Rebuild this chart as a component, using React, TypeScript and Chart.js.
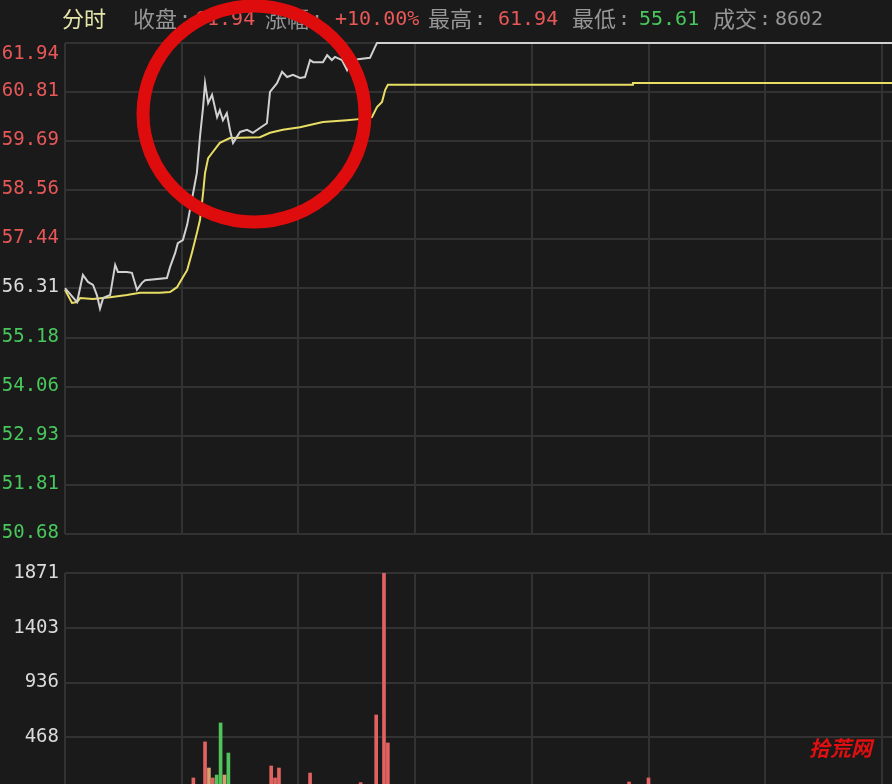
import React, { useEffect, useRef } from "react";
import { Chart, registerables } from "chart.js";
Chart.register(...registerables);

// ---------- data ----------
const PREV_CLOSE = 56.31;
const priceTickLabels = ["61.94", "60.81", "59.69", "58.56", "57.44", "56.31", "55.18", "54.06", "52.93", "51.81", "50.68"];
const volumeTickLabels = ["1871", "1403", "936", "468"];
const volumeTickValues = [1871, 1403.25, 935.5, 467.75];
const timeGridMinutes = [0, 30, 60, 90, 120, 150, 180, 210];

const priceMinutes = [0, 2.6, 3.1, 4.6, 5.9, 7.2, 8.2, 9.0, 9.8, 11.6, 12.9, 13.6, 15.9, 17.2, 18.5, 19.8, 20.6, 26.2, 27.0, 28.3, 29.0, 30.3, 31.4, 32.6, 33.9, 34.7, 35.5, 36.0, 36.8, 37.8, 39.1, 39.8, 40.6, 41.6, 42.4, 43.2, 45.0, 46.8, 48.3, 50.1, 51.9, 52.7, 54.5, 55.8, 57.1, 58.6, 60.4, 61.7, 63.0, 63.8, 66.3, 67.4, 68.6, 69.4, 71.2, 72.5, 73.3, 75.3, 78.4, 79.7, 80.2, 240];
const priceValues = [56.32, 56.05, 56.0, 56.62, 56.46, 56.39, 56.16, 55.85, 56.09, 56.16, 56.85, 56.69, 56.69, 56.67, 56.28, 56.44, 56.5, 56.55, 56.8, 57.12, 57.35, 57.42, 57.77, 58.34, 58.96, 59.79, 60.47, 61.02, 60.56, 60.75, 60.24, 60.4, 60.17, 60.33, 59.95, 59.65, 59.9, 59.95, 59.88, 59.99, 60.1, 60.82, 61.02, 61.28, 61.16, 61.21, 61.14, 61.16, 61.55, 61.5, 61.5, 61.66, 61.55, 61.62, 61.55, 61.32, 61.5, 61.57, 61.6, 61.85, 61.94, 61.94];

const avgMinutes = [0, 1.8, 3.1, 3.9, 7.2, 11.6, 15.9, 19.3, 24.4, 27.0, 28.8, 30.3, 31.4, 32.6, 33.9, 34.7, 35.5, 36.0, 36.8, 38.0, 39.8, 42.4, 50.1, 52.7, 56.0, 60.4, 66.3, 72.5, 76.3, 78.9, 80.2, 81.5, 82.3, 83.0, 145.8, 146.0, 240];
const avgValues = [56.28, 55.98, 56.0, 56.09, 56.07, 56.11, 56.16, 56.21, 56.21, 56.23, 56.34, 56.57, 56.73, 57.12, 57.58, 57.88, 58.5, 58.96, 59.3, 59.44, 59.65, 59.76, 59.78, 59.88, 59.95, 60.01, 60.13, 60.17, 60.2, 60.24, 60.47, 60.59, 60.86, 60.98, 60.98, 61.02, 61.02];

const volumeMinutes = [33, 36, 37, 38, 39, 40, 41, 42, 53, 54, 55, 63, 76, 80, 82, 83, 145, 150];
const volumeValues = [120, 428, 205, 120, 145, 590, 145, 333, 222, 120, 205, 162, 80, 658, 1871, 419, 85, 120];
const volumeDirections = [1, 1, 0, 1, -1, -1, 0, -1, 1, 1, 1, 1, 1, 1, 1, 1, 1, 1];

const headerTitle = "分时";
const headerLabels = ["收盘", "涨幅", "最高", "最低", "成交"];
const headerValues = ["61.94", "+10.00%", "61.94", "55.61", "8602"];
const watermarkText = "拾荒网";

// ---------- styles ----------
const BG = "rgb(26,26,26)";
const GRID = "rgb(50,50,50)";
const RED = "rgb(232,88,88)";
const GREEN = "rgb(72,200,92)";
const GREYTXT = "rgb(150,150,150)";
const LABELWHITE = "rgb(218,218,218)";
const MONO = "'DejaVu Sans Mono', monospace";
const CJK = "'Noto Sans CJK SC', sans-serif";
const XMAX = 827 / 3.89;

const xScale = () => ({
  type: "linear" as const,
  min: 0,
  max: XMAX,
  offset: false,
  border: { display: false },
  grid: { color: GRID, lineWidth: 2, drawTicks: false, offset: false },
  ticks: { display: false },
  afterBuildTicks: (s: any) => {
    s.ticks = timeGridMinutes.map((v) => ({ value: v }));
  },
});

export default function App() {
  const priceRef = useRef<HTMLCanvasElement>(null);
  const volRef = useRef<HTMLCanvasElement>(null);

  useEffect(() => {
    const pricePlugin = {
      id: "priceDecor",
      afterDraw(chart: any) {
        const ctx = chart.ctx;
        const ys = chart.scales.y;
        ctx.save();
        // axis labels
        ctx.font = `19px ${MONO}`;
        ctx.textAlign = "right";
        ctx.textBaseline = "middle";
        priceTickLabels.forEach((lab) => {
          const v = Number(lab);
          const y = Math.max(ys.getPixelForValue(v) - 1, 54);
          ctx.fillStyle = v > PREV_CLOSE + 0.001 ? RED : v < PREV_CLOSE - 0.001 ? GREEN : LABELWHITE;
          ctx.fillText(lab, 59, y);
        });
        // header
        ctx.textAlign = "left";
        ctx.font = `22px ${CJK}`;
        ctx.fillStyle = "rgb(228,228,170)";
        ctx.fillText(headerTitle, 62, 19);
        const labelX = [133, 265, 428, 572, 713];
        const valueX = [195, 335, 498, 639, 775];
        const valueColors = [RED, RED, RED, GREEN, GREYTXT];
        headerLabels.forEach((lab, i) => {
          ctx.font = `22px ${CJK}`;
          ctx.fillStyle = GREYTXT;
          ctx.fillText(lab, labelX[i], 19);
          ctx.font = `20px ${MONO}`;
          ctx.fillText(":", labelX[i] + 46, 20);
          ctx.fillStyle = valueColors[i];
          ctx.fillText(headerValues[i], valueX[i], 20);
        });
        // red annotation circle
        ctx.beginPath();
        ctx.ellipse(254, 114, 111, 108, 0, 0, Math.PI * 2);
        ctx.strokeStyle = "rgb(222,12,12)";
        ctx.lineWidth = 13;
        ctx.stroke();
        ctx.restore();
      },
    };

    const volPlugin = {
      id: "volDecor",
      afterDraw(chart: any) {
        const ctx = chart.ctx;
        const ys = chart.scales.y;
        ctx.save();
        ctx.font = `19px ${MONO}`;
        ctx.textAlign = "right";
        ctx.textBaseline = "middle";
        ctx.fillStyle = LABELWHITE;
        volumeTickLabels.forEach((lab, i) => {
          ctx.fillText(lab, 59, ys.getPixelForValue(volumeTickValues[i]));
        });
        ctx.textAlign = "left";
        ctx.font = `italic bold 21px ${CJK}`;
        ctx.fillStyle = "rgb(225,15,15)";
        ctx.fillText(watermarkText, 809, 203);
        ctx.restore();
      },
    };

    const priceChart = new Chart(priceRef.current!, {
      type: "line",
      data: {
        datasets: [
          {
            data: priceMinutes.map((m, i) => ({ x: m, y: priceValues[i] })),
            borderColor: "rgb(208,208,208)",
            borderWidth: 2,
            pointRadius: 0,
            tension: 0,
            clip: 4,
          },
          {
            data: avgMinutes.map((m, i) => ({ x: m, y: avgValues[i] })),
            borderColor: "rgb(232,222,100)",
            borderWidth: 2,
            pointRadius: 0,
            tension: 0,
            clip: 4,
          },
        ],
      },
      options: {
        animation: false,
        responsive: true,
        maintainAspectRatio: false,
        layout: { padding: { left: 65, top: 43, right: 0, bottom: 11 } },
        plugins: { legend: { display: false }, tooltip: { enabled: false } },
        scales: {
          x: xScale(),
          y: {
            type: "linear",
            min: 50.68,
            max: 61.94,
            border: { display: false },
            grid: { color: GRID, lineWidth: 2, drawTicks: false },
            ticks: { display: false },
            afterBuildTicks: (s: any) => {
              s.ticks = priceTickLabels.map((l) => ({ value: Number(l) }));
            },
          },
        },
      },
      plugins: [pricePlugin],
    } as any);

    const volChart = new Chart(volRef.current!, {
      type: "bar",
      data: {
        datasets: [
          {
            data: volumeMinutes.map((m, i) => ({ x: m, y: volumeValues[i] })),
            backgroundColor: volumeDirections.map((d) => (d > 0 ? "rgb(226,98,98)" : d < 0 ? "rgb(80,196,90)" : "rgb(214,160,110)")),
            barThickness: 3,
            borderWidth: 0,
          },
        ],
      },
      options: {
        animation: false,
        responsive: true,
        maintainAspectRatio: false,
        layout: { padding: { left: 65, top: 28, right: 0, bottom: 8 } },
        plugins: { legend: { display: false }, tooltip: { enabled: false } },
        scales: {
          x: xScale(),
          y: {
            type: "linear",
            min: 0,
            max: 1871,
            border: { display: false },
            grid: { color: GRID, lineWidth: 2, drawTicks: false },
            ticks: { display: false },
            afterBuildTicks: (s: any) => {
              s.ticks = [0, ...volumeTickValues].map((v) => ({ value: v }));
            },
          },
        },
      },
      plugins: [volPlugin],
    } as any);

    return () => {
      priceChart.destroy();
      volChart.destroy();
    };
  }, []);

  return (
    <div style={{ position: "absolute", left: 0, top: 0, width: 892, height: 784, background: BG, overflow: "hidden" }}>
      <div style={{ position: "absolute", left: 0, top: 0, width: 892, height: 545 }}>
        <canvas ref={priceRef} />
      </div>
      <div style={{ position: "absolute", left: 0, top: 545, width: 892, height: 255 }}>
        <canvas ref={volRef} />
      </div>
    </div>
  );
}
